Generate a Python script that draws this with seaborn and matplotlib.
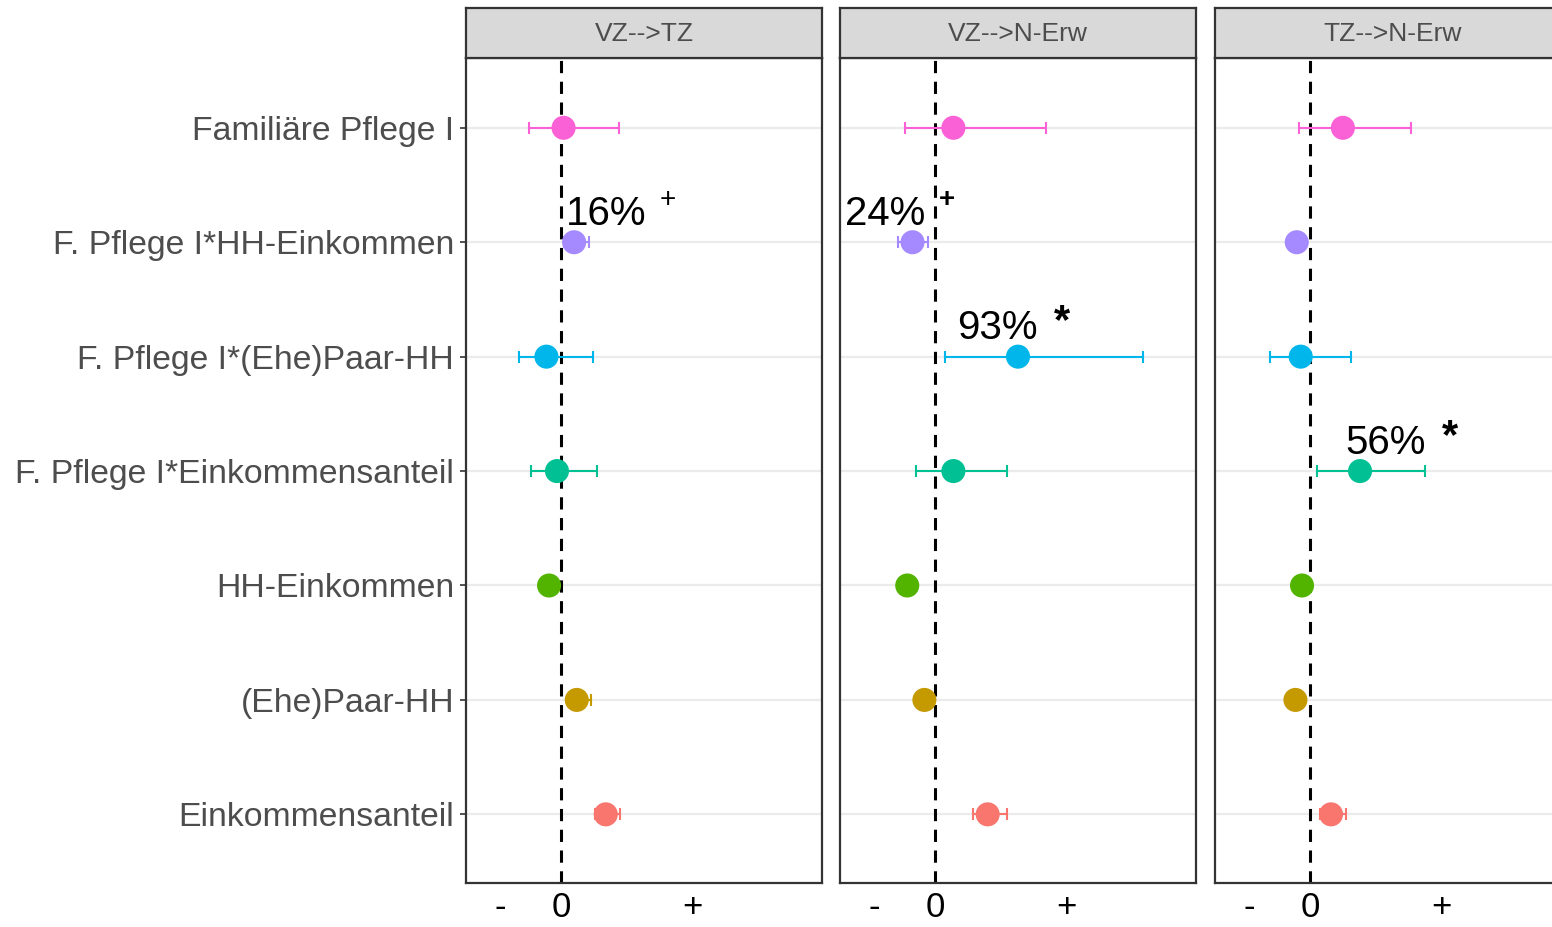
import numpy as np
import pandas as pd
import matplotlib
matplotlib.use('Agg')
import matplotlib.pyplot as plt
import seaborn as sns

# terms, top to bottom
terms = ['Familiäre Pflege I', 'F. Pflege I*HH-Einkommen', 'F. Pflege I*(Ehe)Paar-HH',
         'F. Pflege I*Einkommensanteil', 'HH-Einkommen', '(Ehe)Paar-HH', 'Einkommensanteil']
panels = ['VZ-->TZ', 'VZ-->N-Erw', 'TZ-->N-Erw']

# estimates and confidence bounds (relative units: "+" tick = 1)
est_vz_tz = [0.02, 0.10, -0.11, -0.03, -0.09, 0.12, 0.34]
lo_vz_tz = [-0.24, 0.02, -0.32, -0.23, -0.12, 0.05, 0.26]
hi_vz_tz = [0.44, 0.21, 0.24, 0.27, -0.06, 0.23, 0.45]

est_vz_ne = [0.14, -0.17, 0.63, 0.14, -0.21, -0.08, 0.40]
lo_vz_ne = [-0.23, -0.28, 0.08, -0.14, -0.24, -0.11, 0.29]
hi_vz_ne = [0.84, -0.05, 1.58, 0.55, -0.18, -0.05, 0.55]

est_tz_ne = [0.25, -0.10, -0.07, 0.38, -0.06, -0.11, 0.16]
lo_tz_ne = [-0.08, -0.16, -0.30, 0.05, -0.09, -0.14, 0.08]
hi_tz_ne = [0.77, -0.04, 0.31, 0.87, -0.03, -0.08, 0.27]

colors = ['#FB61D7', '#A58AFF', '#00B6EB', '#00C094', '#53B400', '#C49A00', '#F8766D']
xtick_pos = [-0.46, 0, 1]
xtick_lab = ['-', '0', '+']

# annotations: panel, row, x, label, mark
notes = [
    (0, 1, 0.04, '16%', '+'),
    (1, 1, -0.68, '24%', '+'),
    (1, 2, 0.17, '93%', '*'),
    (2, 3, 0.27, '56%', '*'),
]

rows = []
for p, (e, lo, hi) in zip(panels, [(est_vz_tz, lo_vz_tz, hi_vz_tz),
                                    (est_vz_ne, lo_vz_ne, hi_vz_ne),
                                    (est_tz_ne, lo_tz_ne, hi_tz_ne)]):
    for i, t in enumerate(terms):
        rows.append({'panel': p, 'term': t, 'row': i, 'est': e[i], 'lo': lo[i], 'hi': hi[i]})
df = pd.DataFrame(rows)

sns.set_style('white')
plt.rcParams['font.family'] = ['Liberation Sans', 'DejaVu Sans']

fig = plt.figure(figsize=(15.52, 9.27), dpi=100)
W, H = 1552, 927
lefts = [466, 840, 1215]
pw = 356
top_px, bot_px, strip_px = 58, 883, 8
pal = dict(zip(terms, colors))

for k, p in enumerate(panels):
    ax = fig.add_axes([lefts[k] / W, 1 - bot_px / H, pw / W, (bot_px - top_px) / H])
    d = df[df['panel'] == p]
    for r in range(len(terms)):
        ax.axhline(r, color='#ebebeb', lw=1.6, zorder=0)
    ax.axvline(0, color='black', lw=2.2, linestyle=(0, (4, 2.8)), zorder=1)
    for _, rw in d.iterrows():
        ax.errorbar(rw['est'], rw['row'], xerr=[[rw['est'] - rw['lo']], [rw['hi'] - rw['est']]],
                    fmt='none', ecolor=pal[rw['term']], elinewidth=1.5, capsize=4,
                    capthick=1.5, zorder=2)
    sns.scatterplot(data=d, x='est', y='row', hue='term', palette=pal, s=300,
                    linewidth=0, legend=False, ax=ax, zorder=3)
    ax.set_xlim(-0.72, 1.98)
    ax.set_ylim(6.6, -0.61)
    ax.set_xlabel('')
    ax.set_ylabel('')
    ax.set_xticks(xtick_pos)
    ax.set_xticklabels(xtick_lab, fontsize=25, color='black')
    ax.tick_params(axis='x', length=0, pad=6)
    ax.set_yticks(range(len(terms)))
    if k == 0:
        ax.set_yticklabels(terms, fontsize=24.3, color='#4d4d4d')
        ax.tick_params(axis='y', length=4.5, width=1.2, color='#333333', pad=4, left=True)
    else:
        ax.set_yticklabels([])
        ax.tick_params(axis='y', length=0)
    for s in ax.spines.values():
        s.set_color('#333333')
        s.set_linewidth(1.6)
        s.set_visible(True)

    for (pi, r, x, lab, mark) in notes:
        if pi != k:
            continue
        t = ax.text(x, r - 0.15, lab, fontsize=29, color='black', ha='left', va='baseline')
        fig.canvas.draw()
        bb = t.get_window_extent().transformed(ax.transData.inverted())
        if mark == '*':
            ax.text(bb.x1 + 0.12, r - 0.3, mark, fontsize=30, fontweight='bold',
                    color='black', ha='left', va='center')
        else:
            ax.text(bb.x1 + 0.1, r - 0.37, mark, fontsize=20,
                    fontweight='bold' if k == 1 else 'normal', color='black',
                    ha='left', va='center')

    sax = fig.add_axes([lefts[k] / W, 1 - top_px / H, pw / W, (top_px - strip_px) / H])
    sax.set_facecolor('#d9d9d9')
    sax.set_xticks([])
    sax.set_yticks([])
    for s in sax.spines.values():
        s.set_color('#333333')
        s.set_linewidth(1.6)
    sax.text(0.5, 0.48, p, transform=sax.transAxes, ha='center', va='center',
             fontsize=19, color='#4d4d4d')

fig.savefig('out.png', dpi=100)
